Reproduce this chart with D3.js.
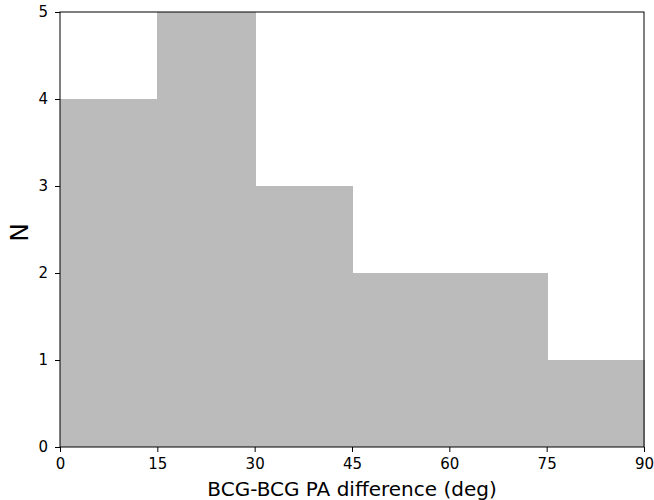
<!DOCTYPE html>
<html>
<head>
<meta charset="utf-8">
<script src="https://cdn.jsdelivr.net/npm/d3@7"></script>
<style>
  body { margin: 0; background: #fff; }
  text { font-family: "DejaVu Sans", sans-serif; fill: #000; }
</style>
</head>
<body>
<svg id="chart"></svg>
<script>
// histogram of PA differences, bin edges every 15 deg
const binEdges = [0, 15, 30, 45, 60, 75, 90];
const counts = [4, 5, 3, 2, 2, 1];
const xTicks = [0, 15, 30, 45, 60, 75, 90];
const yTicks = [0, 1, 2, 3, 4, 5];

const width = 654, height = 500;
const margin = { top: 12, right: 10, bottom: 53, left: 60 };

const svg = d3.select("#chart").attr("width", width).attr("height", height);

const x = d3.scaleLinear().domain([0, 90]).range([margin.left, width - margin.right]);
const y = d3.scaleLinear().domain([0, 5]).range([height - margin.bottom, margin.top]);

const bins = counts.map((c, i) => ({ x0: binEdges[i], x1: binEdges[i + 1], n: c }));

svg.append("g")
    .attr("shape-rendering", "crispEdges")
    .selectAll("rect")
    .data(bins)
    .enter()
    .append("rect")
    .attr("x", d => x(d.x0))
    .attr("width", d => x(d.x1) - x(d.x0) + 1)
    .attr("y", d => y(d.n))
    .attr("height", d => y(0) - y(d.n))
    .attr("fill", "#bbbbbb");

// frame
svg.append("rect")
    .attr("x", x(0)).attr("y", y(5))
    .attr("width", x(90) - x(0)).attr("height", y(0) - y(5))
    .attr("fill", "none").attr("stroke", "#000").attr("stroke-width", 1);

const xAxis = svg.append("g")
    .attr("transform", `translate(0,${y(0)})`)
    .call(d3.axisBottom(x).tickValues(xTicks).tickSize(5).tickPadding(6).tickFormat(d3.format("d")));
const yAxis = svg.append("g")
    .attr("transform", `translate(${x(0)},0)`)
    .call(d3.axisLeft(y).tickValues(yTicks).tickSize(5).tickPadding(7).tickFormat(d3.format("d")));

[xAxis, yAxis].forEach(g => {
    g.select(".domain").remove();
    g.attr("font-size", null).attr("font-family", null);
    g.selectAll("text").style("font-size", "15px").style("font-family", "DejaVu Sans").attr("fill", "#000");
    g.selectAll("line").attr("stroke", "#000");
});

svg.append("text")
    .attr("x", (x(0) + x(90)) / 2)
    .attr("y", 496)
    .attr("text-anchor", "middle")
    .style("font-size", "20px")
    .text("BCG-BCG PA difference (deg)");

svg.append("text")
    .attr("transform", `translate(28,${(y(0) + y(5)) / 2 + 3}) rotate(-90)`)
    .attr("text-anchor", "middle")
    .style("font-size", "25px")
    .text("N");
</script>
</body>
</html>
